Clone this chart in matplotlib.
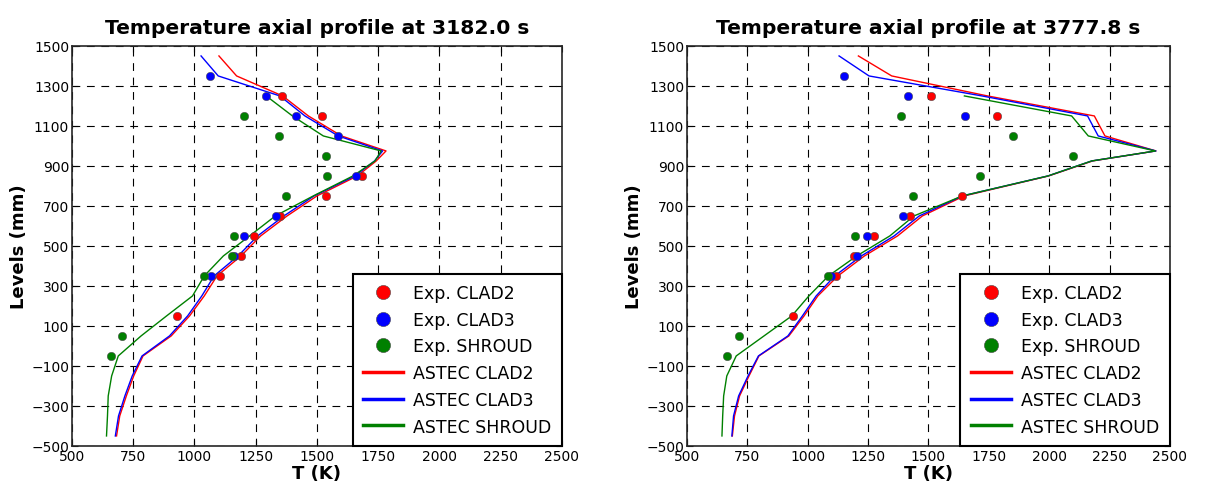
import numpy as np
import matplotlib
matplotlib.use("Agg")
import matplotlib.pyplot as plt

# ---- data ----
times = ["3182.0", "3777.8"]

# ASTEC computed levels (mm)
astec_levels = [-450, -350, -250, -150, -50, 50, 150, 250, 350, 450, 550,
                650, 750, 850, 925, 975, 1050, 1150, 1250, 1350, 1450]
# shroud curve stops at 1250 mm
shroud_levels = astec_levels[:-2]

# t = 3182.0 s
astec_clad2_a = [682, 695, 722, 752, 790, 905, 980, 1040, 1092, 1190, 1270,
                 1378, 1500, 1665, 1742, 1782, 1600, 1465, 1360, 1172, 1100]
astec_clad3_a = [677, 690, 716, 746, 786, 898, 972, 1030, 1080, 1178, 1258,
                 1365, 1488, 1655, 1735, 1768, 1587, 1451, 1349, 1097, 1027]
astec_shroud_a = [641, 645, 648, 662, 689, 782, 886, 992, 1040, 1118, 1225,
                  1330, 1485, 1647, 1737, 1762, 1526, 1400, 1293]

exp_clad2_lev_a = [150, 350, 450, 550, 650, 750, 850, 1150, 1250]
exp_clad2_a = [927, 1105, 1192, 1244, 1350, 1538, 1684, 1519, 1358]
exp_clad3_lev_a = [350, 450, 550, 650, 850, 1050, 1150, 1250, 1350]
exp_clad3_a = [1069, 1163, 1202, 1331, 1660, 1587, 1416, 1293, 1064]
exp_shroud_lev_a = [-50, 50, 350, 450, 550, 750, 850, 950, 1050, 1150]
exp_shroud_a = [658, 703, 1040, 1155, 1160, 1373, 1542, 1538, 1346, 1202]

# t = 3777.8 s
astec_clad2_b = [688, 697, 718, 757, 798, 922, 985, 1042, 1125, 1235, 1372,
                 1475, 1648, 1998, 2180, 2442, 2231, 2187, 1745, 1348, 1210]
astec_clad3_b = [686, 693, 714, 753, 796, 918, 978, 1035, 1112, 1222, 1358,
                 1462, 1640, 1995, 2176, 2442, 2203, 2159, 1722, 1254, 1130]
astec_shroud_b = [645, 648, 652, 665, 704, 819, 934, 1005, 1086, 1203, 1340,
                  1440, 1640, 1995, 2176, 2440, 2162, 2093, 1649]

exp_clad2_lev_b = [150, 350, 450, 550, 650, 750, 1150, 1250]
exp_clad2_b = [940, 1118, 1190, 1276, 1424, 1639, 1785, 1511]
exp_clad3_lev_b = [350, 450, 550, 650, 1150, 1250, 1350]
exp_clad3_b = [1095, 1203, 1245, 1395, 1653, 1417, 1152]
exp_shroud_lev_b = [-50, 50, 350, 550, 750, 850, 950, 1050, 1150]
exp_shroud_b = [667, 715, 1083, 1196, 1438, 1714, 2098, 1850, 1385]

panels = [
    (astec_clad2_a, astec_clad3_a, astec_shroud_a,
     (exp_clad2_lev_a, exp_clad2_a), (exp_clad3_lev_a, exp_clad3_a),
     (exp_shroud_lev_a, exp_shroud_a)),
    (astec_clad2_b, astec_clad3_b, astec_shroud_b,
     (exp_clad2_lev_b, exp_clad2_b), (exp_clad3_lev_b, exp_clad3_b),
     (exp_shroud_lev_b, exp_shroud_b)),
]

GREEN = (0, 0.5, 0)

fig = plt.figure(figsize=(12.28, 4.89), dpi=100)
ax_rects = [[0.0586, 0.086, 0.399, 0.818], [0.5594, 0.086, 0.3933, 0.818]]

for i, (c2, c3, sh, e2, e3, esh) in enumerate(panels):
    ax = fig.add_axes(ax_rects[i])
    mk = dict(linestyle="none", marker="o", markersize=6,
              markeredgecolor="0.3", markeredgewidth=0.4, zorder=3)
    ax.plot(e2[1], e2[0], color="r", label="Exp. CLAD2", **mk)
    ax.plot(e3[1], e3[0], color="b", label="Exp. CLAD3", **mk)
    ax.plot(esh[1], esh[0], color=GREEN, label="Exp. SHROUD", **mk)
    ax.plot(c2, astec_levels, color="r", lw=1, label="ASTEC CLAD2")
    ax.plot(c3, astec_levels, color="b", lw=1, label="ASTEC CLAD3")
    ax.plot(sh, shroud_levels, color=GREEN, lw=1, label="ASTEC SHROUD")

    ax.set_xlim(500, 2500)
    ax.set_ylim(-500, 1500)
    ax.set_xticks(np.arange(500, 2501, 250))
    ax.set_yticks(np.arange(-500, 1501, 200))
    ax.tick_params(direction="in", top=True, right=True, labelsize=10,
                   length=4, pad=2)
    ax.grid(True, color="k", linestyle=(0, (7, 6)), lw=0.8)
    for s in ax.spines.values():
        s.set_linewidth(1.2)
        s.set_color("0.15")

    ax.set_title(f"Temperature axial profile at {times[i]} s",
                 fontsize=14.6, fontweight="bold", pad=9)
    ax.set_xlabel("T (K)", fontsize=13, fontweight="bold", labelpad=1)
    ax.set_ylabel("Levels (mm)", fontsize=13, fontweight="bold", labelpad=2)

    leg = ax.legend(loc="lower right", bbox_to_anchor=(1, 0), borderaxespad=0,
                    fontsize=12.5, markerscale=1.7, fancybox=False,
                    framealpha=1, edgecolor="k", handlelength=2.3,
                    handletextpad=0.6, labelspacing=0.5, borderpad=0.6)
    leg.get_frame().set_linewidth(1.5)
    for ln in leg.get_lines():
        ln.set_linewidth(2.5)

fig.savefig("out.png", dpi=100)
